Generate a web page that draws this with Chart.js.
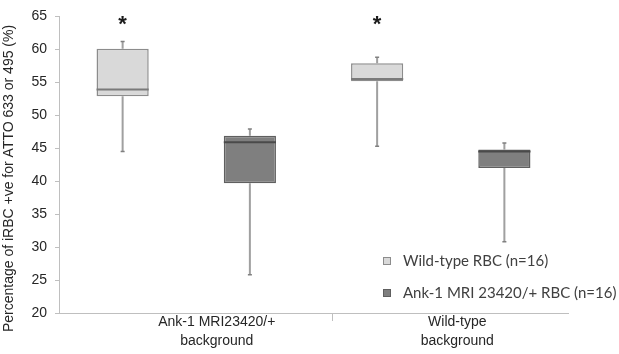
<!DOCTYPE html>
<html><head><meta charset="utf-8">
<script src="https://cdn.jsdelivr.net/npm/chart.js@4.4.0/dist/chart.umd.min.js"></script>
<style>html,body{margin:0;padding:0;background:#fff;overflow:hidden}</style>
</head><body>
<canvas id="c" width="619" height="354"></canvas>
<script>
// ---- data ----
const groups = [['Ank-1 MRI23420/+', 'background'], ['Wild-type', 'background']];
const seriesNames = ['Wild-type RBC (n=16)', 'Ank-1 MRI 23420/+ RBC (n=16)'];
const wtMin = [44.5, 45.3];
const wtQ1 = [52.9, 55.15];
const wtMedian = [53.9, 55.5];
const wtQ3 = [60.1, 57.9];
const wtMax = [61.2, 58.8];
const ankMin = [25.8, 30.8];
const ankQ1 = [39.7, 42.0];
const ankMedian = [45.9, 44.5];
const ankQ3 = [46.9, 44.8];
const ankMax = [47.9, 45.8];
const wtMarks = ['*', '*'];
const ankMarks = ['', ''];
const yTitle = 'Percentage of iRBC +ve for ATTO 633 or 495 (%)';
const yMin = 20, yMax = 65, yStep = 5;

// ---- styles ----
const AX = '#bfbfbf';
const TXT = '#262626';
const FONT = '"Liberation Sans", Arial, sans-serif';
const styles = [
  {fill: '#d9d9d9', border: '#8c8c8c', median: '#7a7a7a', whisker: '#a0a0a0'},
  {fill: '#7f7f7f', border: '#5f5f5f', median: '#4a4a4a', whisker: '#a0a0a0'}
];
const stats = [
  {min: wtMin, q1: wtQ1, med: wtMedian, q3: wtQ3, max: wtMax, marks: wtMarks},
  {min: ankMin, q1: ankQ1, med: ankMedian, q3: ankQ3, max: ankMax, marks: ankMarks}
];

const boxPlugin = {
  id: 'boxplot',
  beforeDatasetsDraw(chart) {
    const ctx = chart.ctx, y = chart.scales.y;
    stats.forEach((s, di) => {
      const meta = chart.getDatasetMeta(di);
      meta.data.forEach((bar, i) => {
        ctx.save();
        ctx.strokeStyle = styles[di].whisker;
        ctx.lineWidth = 2;
        ctx.beginPath();
        ctx.moveTo(bar.x, y.getPixelForValue(s.max[i]));
        ctx.lineTo(bar.x, y.getPixelForValue(s.q3[i]));
        ctx.moveTo(bar.x, y.getPixelForValue(s.q1[i]));
        ctx.lineTo(bar.x, y.getPixelForValue(s.min[i]));
        ctx.stroke();
        ctx.strokeStyle = '#808080';
        ctx.lineWidth = 1.5;
        ctx.beginPath();
        [s.max[i], s.min[i]].forEach(v => {
          const py = y.getPixelForValue(v);
          ctx.moveTo(bar.x - 2, py); ctx.lineTo(bar.x + 2, py);
        });
        ctx.stroke();
        ctx.restore();
      });
    });
  },
  afterDatasetsDraw(chart) {
    const ctx = chart.ctx, y = chart.scales.y, area = chart.chartArea;
    stats.forEach((s, di) => {
      const meta = chart.getDatasetMeta(di);
      meta.data.forEach((bar, i) => {
        ctx.save();
        ctx.strokeStyle = styles[di].median;
        ctx.lineWidth = 2;
        const py = y.getPixelForValue(s.med[i]);
        ctx.beginPath();
        ctx.moveTo(bar.x - bar.width / 2, py);
        ctx.lineTo(bar.x + bar.width / 2, py);
        ctx.stroke();
        if (s.marks[i]) {
          ctx.fillStyle = '#1a1a1a';
          ctx.font = 'bold 22px ' + FONT;
          ctx.textAlign = 'center';
          ctx.textBaseline = 'alphabetic';
          ctx.fillText(s.marks[i], bar.x, area.top + 15);
        }
        ctx.restore();
      });
    });
    // legend
    ctx.save();
    ctx.font = '15px Lato, "Open Sans", sans-serif';
    ctx.textBaseline = 'middle';
    ctx.textAlign = 'left';
    const rows = [261, 293];
    seriesNames.forEach((name, di) => {
      const cy = rows[di];
      ctx.fillStyle = styles[di].fill;
      ctx.fillRect(383, cy - 4, 8, 8);
      ctx.strokeStyle = styles[di].border;
      ctx.lineWidth = 1;
      ctx.strokeRect(383.5, cy - 3.5, 7, 7);
      ctx.fillStyle = '#404040';
      ctx.fillText(name, 403, cy);
    });
    ctx.restore();
    // y title
    ctx.save();
    ctx.translate(9, 178.5);
    ctx.rotate(-Math.PI / 2);
    ctx.font = '14px ' + FONT;
    ctx.fillStyle = TXT;
    ctx.textAlign = 'center';
    ctx.textBaseline = 'middle';
    ctx.fillText(yTitle, 0, 0);
    ctx.restore();
  }
};

function build() {
  new Chart(document.getElementById('c'), {
    type: 'bar',
    data: {
      labels: groups.map(g => g.join(' ')),
      datasets: stats.map((s, di) => ({
        label: seriesNames[di],
        data: s.q1.map((q, i) => [q, s.q3[i]]),
        backgroundColor: styles[di].fill,
        borderColor: styles[di].border,
        borderWidth: 1.5,
        borderSkipped: false,
        categoryPercentage: 1,
        barPercentage: 0.41,
        xAxisID: 'xc',
        yAxisID: 'y'
      }))
    },
    options: {
      responsive: false,
      devicePixelRatio: 1,
      animation: false,
      layout: {padding: {left: 0, right: 51, top: 16, bottom: 0}},
      plugins: {legend: {display: false}, tooltip: {enabled: false}},
      scales: {
        xc: {type: 'category', display: false, offset: true},
        x: {
          type: 'linear', position: 'bottom', min: 0, max: 4, offset: false,
          afterBuildTicks(s) { s.ticks = [{value: 1.24}, {value: 2.15}, {value: 3.13}]; },
          ticks: {
            autoSkip: false, maxRotation: 0, padding: -9, color: TXT,
            font: {family: FONT, size: 14, lineHeight: 1.4},
            callback: (v, i) => i === 0 ? groups[0] : (i === 2 ? groups[1] : '')
          },
          grid: {offset: false, drawOnChartArea: false, drawTicks: true, tickLength: 8,
            tickColor: c => c.index === 1 ? AX : 'rgba(0,0,0,0)'},
          border: {color: AX, width: 1},
          afterFit(s) { s.height = 41; }
        },
        y: {
          min: yMin, max: yMax,
          ticks: {stepSize: yStep, color: TXT, padding: 8, font: {family: FONT, size: 14}},
          grid: {drawOnChartArea: false, drawTicks: true, tickLength: 4, tickColor: AX},
          border: {color: AX, width: 1},
          afterFit(s) { s.width = 59; }
        }
      }
    },
    plugins: [boxPlugin]
  });
}
Promise.all([
  document.fonts.load('14px "Liberation Sans"'),
  document.fonts.load('bold 22px "Liberation Sans"'),
  document.fonts.load('15px Lato')
]).then(build, build);
</script>
</body></html>
